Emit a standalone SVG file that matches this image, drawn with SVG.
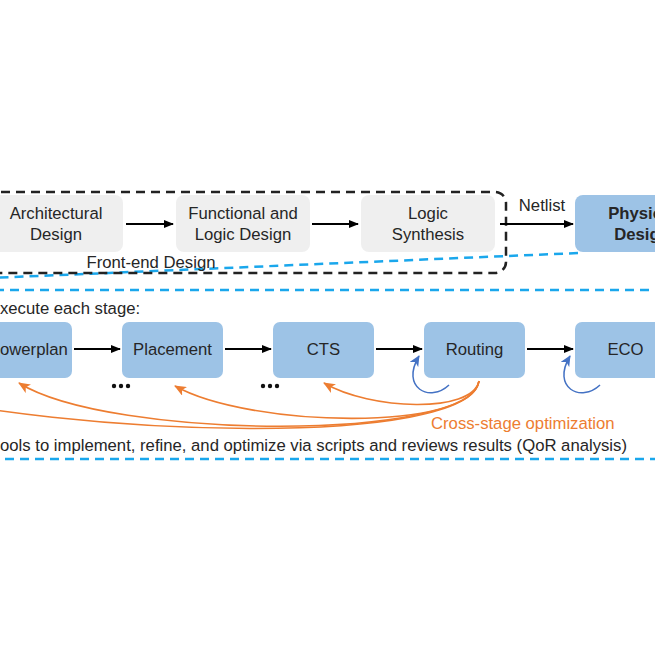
<svg xmlns="http://www.w3.org/2000/svg" width="655" height="655" viewBox="0 0 655 655">
<style>
text{font-family:"Liberation Sans",Arial,sans-serif;font-size:16.7px;fill:#262626;}
.c{text-anchor:middle;}
.gray{fill:#EFEFEF;}
.blue{fill:#9DC3E6;}
.ar{stroke:#000;stroke-width:2;fill:none;marker-end:url(#ah);}
.or{stroke:#ED7D31;stroke-width:1.6;fill:none;marker-end:url(#oh);}
.bl{stroke:#4472C4;stroke-width:1.5;fill:none;marker-end:url(#bh);}
.bd{stroke:#1AA7EC;stroke-width:2.5;fill:none;stroke-dasharray:9 6;}
</style>
<defs>
<marker id="ah" markerWidth="10" markerHeight="8" refX="9" refY="4" orient="auto" markerUnits="userSpaceOnUse"><path d="M0,0 L10,4 L0,8 Z" fill="#000"/></marker>
<marker id="oh" markerWidth="12" markerHeight="10" refX="11" refY="5" orient="auto" markerUnits="userSpaceOnUse"><path d="M0,0 L12,5 L0,10 L3,5 Z" fill="#ED7D31"/></marker>
<marker id="bh" markerWidth="11" markerHeight="10" refX="10" refY="5" orient="auto" markerUnits="userSpaceOnUse"><path d="M0,0 L11,5 L0,10 L3,5 Z" fill="#4472C4"/></marker>
</defs>
<rect width="655" height="655" fill="#fff"/>

<g id="physical-zoom-lines">
<line class="bd" x1="578" y1="253" x2="-10" y2="278"/>
<rect class="bd" x="-20" y="290" width="720" height="169"/>
</g>

<g id="arch"><rect class="gray" x="-11" y="195" width="134" height="57" rx="8"/><text class="c" x="56" y="219">Architectural</text><text class="c" x="56" y="240">Design</text></g>
<g id="func"><rect class="gray" x="176" y="195" width="134" height="57" rx="8"/><text class="c" x="243" y="219">Functional and</text><text class="c" x="243" y="240">Logic Design</text></g>
<g id="synth"><rect class="gray" x="361" y="195" width="134" height="57" rx="8"/><text class="c" x="428" y="219">Logic</text><text class="c" x="428" y="240">Synthesis</text></g>
<g id="physical"><rect class="blue" x="575" y="195" width="134" height="57" rx="8"/><text class="c" x="642" y="219" font-weight="bold">Physical</text><text class="c" x="642" y="240" font-weight="bold">Design</text></g>

<g id="powerplan"><rect class="blue" x="-29" y="322" width="101" height="56" rx="7"/><text x="0" y="355">owerplan</text></g>
<g id="placement"><rect class="blue" x="122" y="322" width="101" height="56" rx="7"/><text class="c" x="172.5" y="355">Placement</text></g>
<g id="cts"><rect class="blue" x="273" y="322" width="101" height="56" rx="7"/><text class="c" x="323.5" y="355">CTS</text></g>
<g id="routing"><rect class="blue" x="424" y="322" width="101" height="56" rx="7"/><text class="c" x="474.5" y="355">Routing</text></g>
<g id="eco"><rect class="blue" x="575" y="322" width="101" height="56" rx="7"/><text class="c" x="625.5" y="355">ECO</text></g>

<g id="frontend-group">
<rect x="-100" y="192" width="606" height="81" rx="11" fill="none" stroke="#222" stroke-width="2.5" stroke-dasharray="9 6"/>
<text class="c" x="151" y="268">Front-end Design</text>
</g>

<g id="connectors">
<line class="ar" x1="126" y1="224" x2="173" y2="224"/>
<line class="ar" x1="312" y1="224" x2="358" y2="224"/>
<line class="ar" x1="500" y1="224" x2="573" y2="224"/>
<text class="c" x="542" y="211">Netlist</text>
<line class="ar" x1="74" y1="349" x2="120" y2="349"/>
<line class="ar" x1="225" y1="349" x2="271" y2="349"/>
<line class="ar" x1="376" y1="349" x2="422" y2="349"/>
<line class="ar" x1="527" y1="349" x2="573" y2="349"/>
<path class="or" d="M479,381 C470,447 80,440 -130,386"/>
<path class="or" d="M479,381 C470,442 110,440 19,383"/>
<path class="or" d="M479,381 C472,432 250,428 175,386"/>
<path class="or" d="M479,381 C472,414 370,410 324,383"/>
<path class="bl" d="M449,385 C430,403 400,388 419,356"/>
<path class="bl" d="M600,385 C581,403 551,388 570,356"/>
</g>

<g id="dots" fill="#111">
<circle cx="114" cy="386" r="2.2"/><circle cx="121" cy="386" r="2.2"/><circle cx="128" cy="386" r="2.2"/>
<circle cx="263" cy="386" r="2.2"/><circle cx="270" cy="386" r="2.2"/><circle cx="277" cy="386" r="2.2"/>
</g>

<g id="labels">
<text x="0" y="314">xecute each stage:</text>
<text x="431" y="429" style="fill:#ED7D31">Cross-stage optimization</text>
<text x="0" y="451">ools to implement, refine, and optimize via scripts and reviews results (QoR analysis)</text>
</g>
</svg>
